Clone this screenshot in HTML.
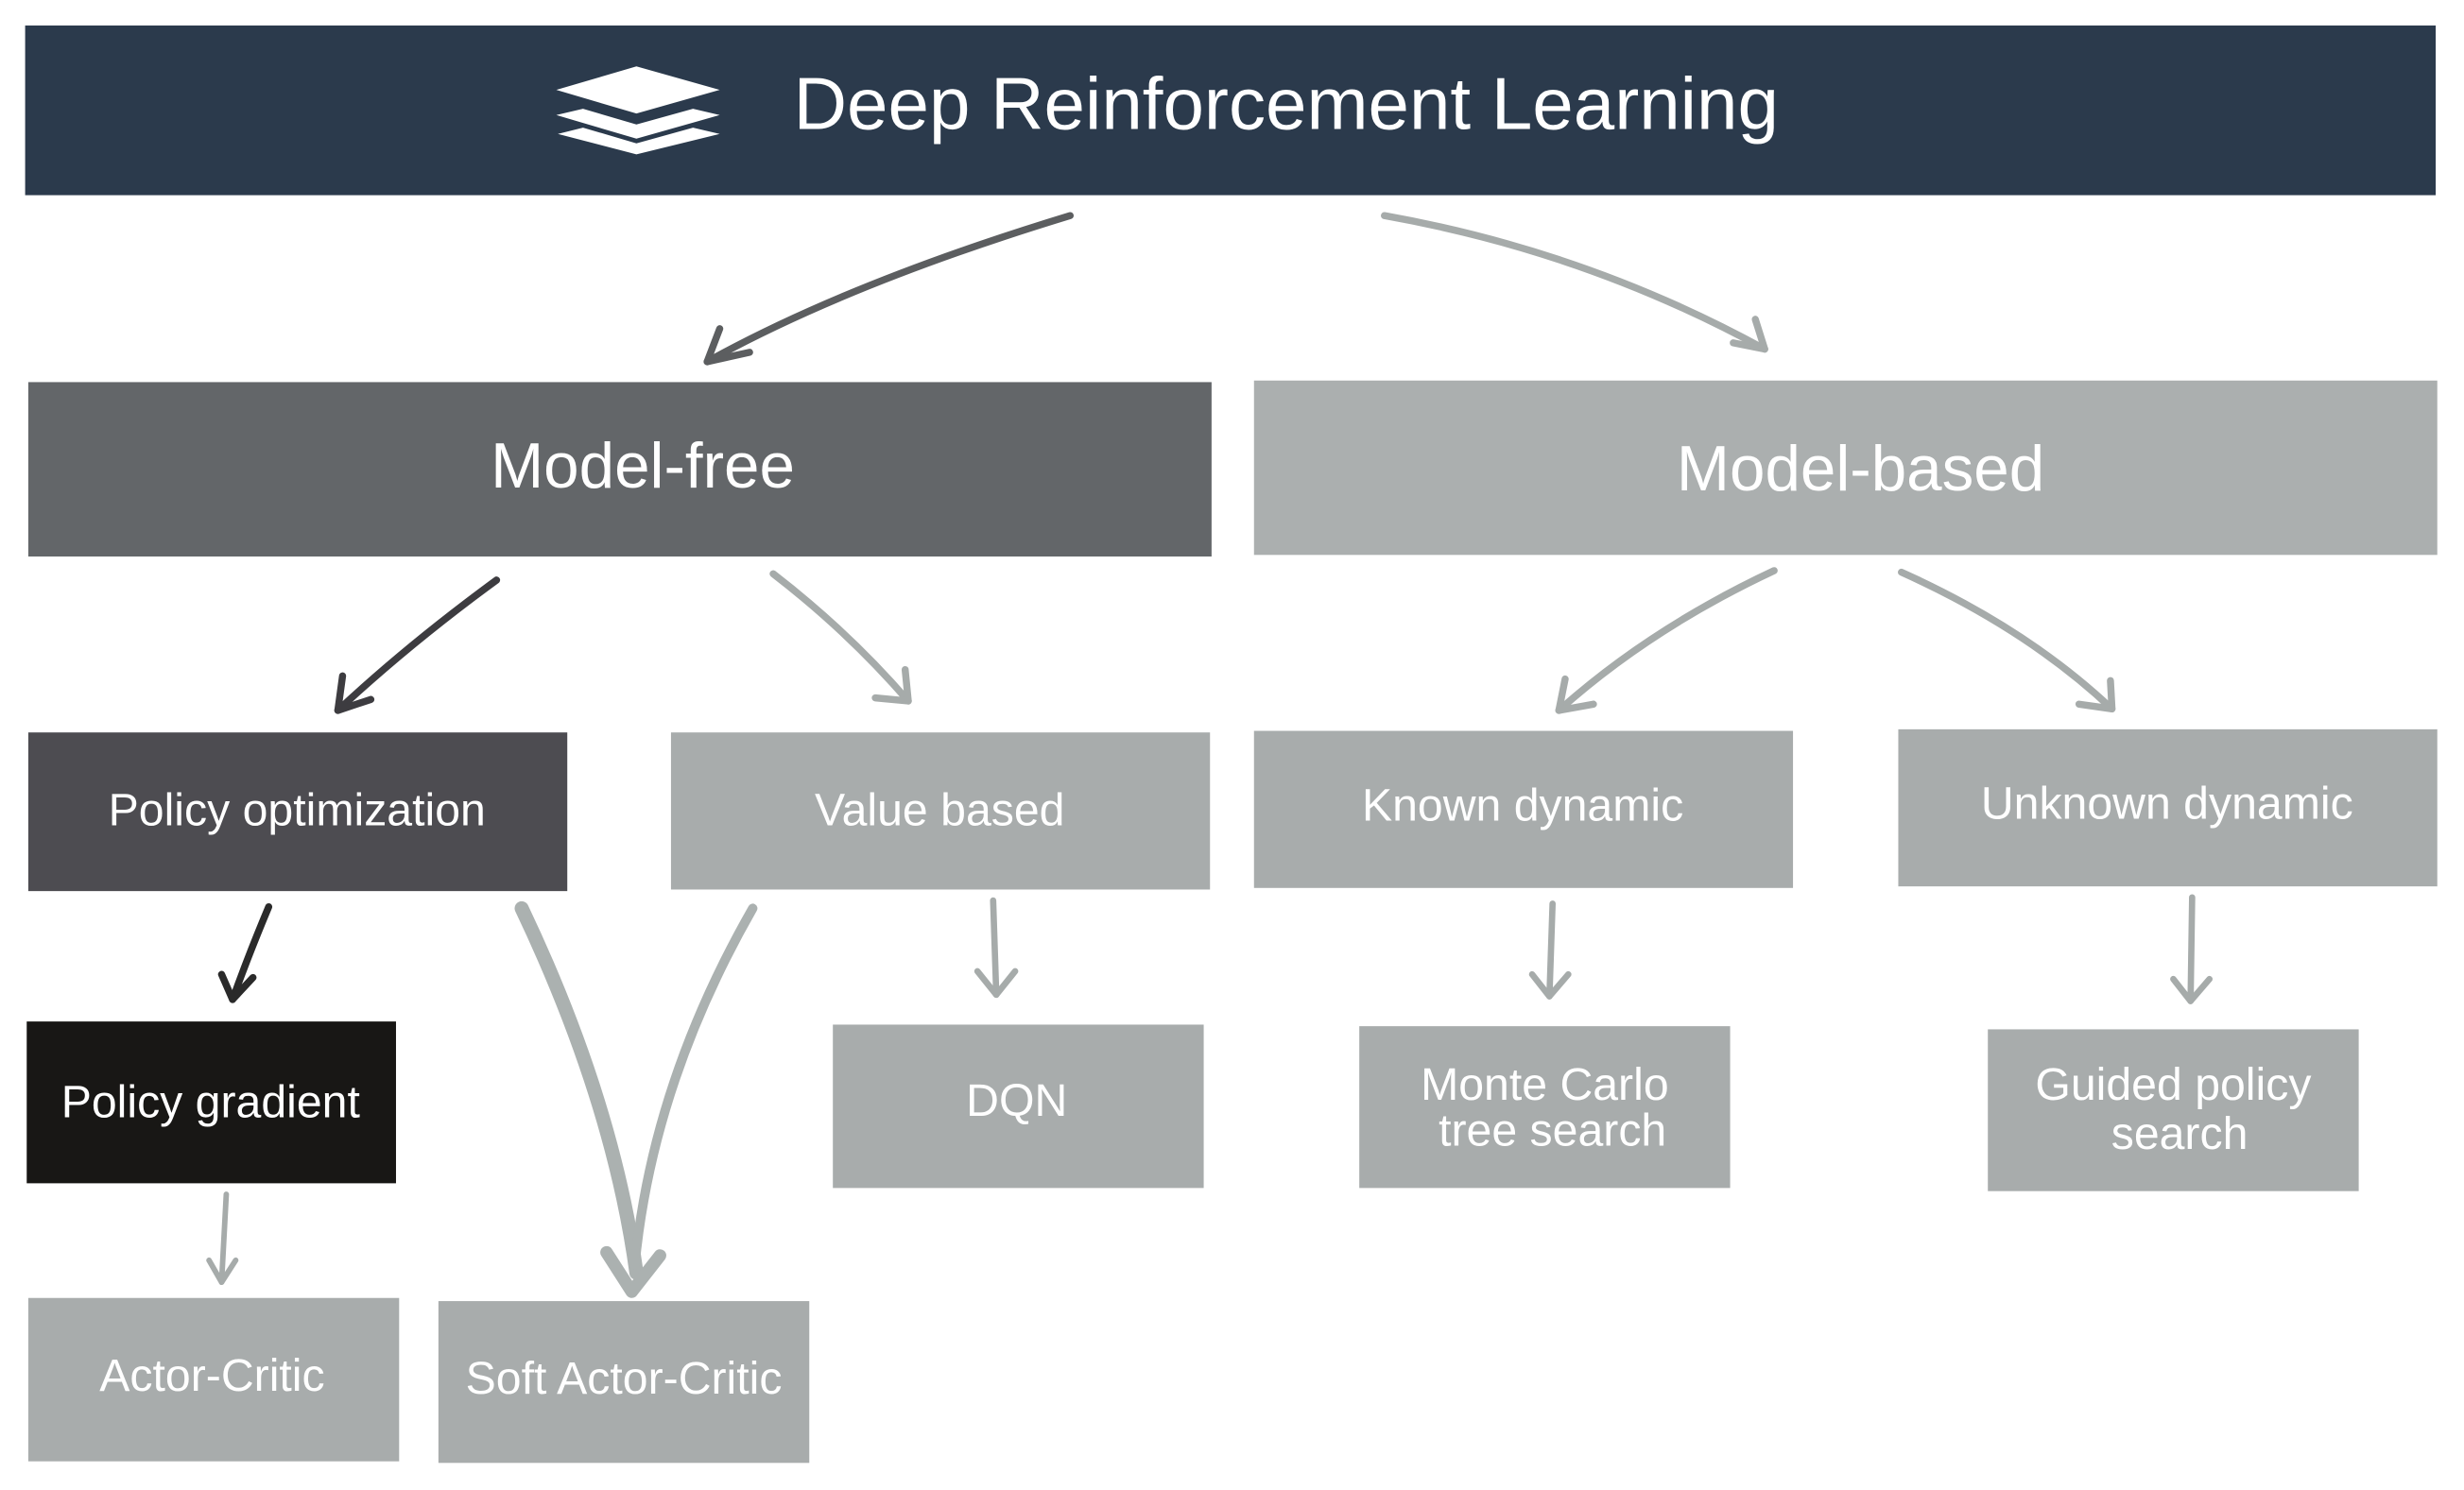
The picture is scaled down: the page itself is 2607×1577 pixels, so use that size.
<!DOCTYPE html>
<html><head><meta charset="utf-8"><style>html,body{margin:0;padding:0;background:#fff}svg{display:block}text{font-family:"Liberation Sans",sans-serif}</style></head>
<body>
<svg width="2607" height="1577" viewBox="0 0 1568 948" xmlns="http://www.w3.org/2000/svg">
<rect width="1568" height="948" fill="#fff"/>
<rect x="16" y="16" width="1534" height="108" fill="#2b3a4c"/>
<g fill="#fff">
<polygon points="354,57 405,42 458,57 405,72"/>
<polygon points="354,73 371,69 405,79 441,69 458,73 405,88"/>
<polygon points="355,85 371,81 405,91 441,81 458,85 405,98"/>
</g>
<text x="505" y="82" font-size="47" fill="#fff">Deep Reinforcement Learning</text>

<rect x="18" y="243" width="753" height="111" fill="#636669"/>
<text x="409" y="310" font-size="40.5" fill="#fff" text-anchor="middle">Model-free</text>
<rect x="798" y="242" width="753" height="111" fill="#abafaf"/>
<text x="1184" y="312" font-size="40.5" fill="#fff" text-anchor="middle">Model-based</text>

<g font-size="29" fill="#fff" text-anchor="middle">
<rect x="18" y="466" width="343" height="101" fill="#4d4c51"/><text x="189" y="525">Policy optimization</text>
<rect x="427" y="466" width="343" height="100" fill="#a8acac"/><text x="598" y="525">Value based</text>
<rect x="798" y="465" width="343" height="100" fill="#a8acac"/><text x="969" y="522">Known dynamic</text>
<rect x="1208" y="464" width="343" height="100" fill="#a8acac"/><text x="1379" y="521">Unknown dynamic</text>
<rect x="17" y="650" width="235" height="103" fill="#181715"/><text x="134" y="711">Policy gradient</text>
<rect x="530" y="652" width="236" height="104" fill="#a8acac"/><text x="647" y="710">DQN</text>
<rect x="865" y="653" width="236" height="103" fill="#a8acac"/><text x="983" y="700">Monte Carlo</text><text x="988" y="729">tree search</text>
<rect x="1265" y="655" width="236" height="103" fill="#a8acac"/><text x="1383" y="700">Guided policy</text><text x="1387" y="731">search</text>
<rect x="18" y="826" width="236" height="104" fill="#a8acac"/><text x="135" y="885">Actor-Critic</text>
<rect x="279" y="828" width="236" height="103" fill="#a8acac"/><text x="397" y="887">Soft Actor-Critic</text>
</g>

<g fill="none" stroke-linecap="round" stroke-linejoin="round">
<g stroke="#5c5e60" stroke-width="4.5"><path d="M681,137 Q540,180 450,230"/><path d="M458,209 L450,230 L477,224"/></g>
<g stroke="#a6abaa" stroke-width="4.5"><path d="M881,137 Q1010,160 1123,222"/><path d="M1103,218 L1123,222 L1117,203"/></g>
<g stroke="#3d3c40" stroke-width="4.5"><path d="M316,369 Q260,410 215,452"/><path d="M218,430 L215,452 L236,445"/></g>
<g stroke="#a6abaa" stroke-width="4.5"><path d="M492,365 Q540,402 578,446"/><path d="M557,444 L578,446 L576,426"/></g>
<g stroke="#a6abaa" stroke-width="4.5"><path d="M1129,363 Q1050,400 992,452"/><path d="M996,432 L992,452 L1014,448"/></g>
<g stroke="#a6abaa" stroke-width="4.5"><path d="M1210,364 Q1290,400 1344,451"/><path d="M1323,448 L1344,451 L1343,433"/></g>
<g stroke="#2a2a2a" stroke-width="4.5"><path d="M171,577 Q158,608 148,636"/><path d="M141,620 L148,636 L161,622"/></g>
<g stroke="#a6abaa" stroke-width="4"><path d="M632,573 L634,633"/><path d="M622,618 L634,633 L646,618"/></g>
<g stroke="#a6abaa" stroke-width="4"><path d="M988,575 L986,634"/><path d="M975,620 L986,634 L998,620"/></g>
<g stroke="#a6abaa" stroke-width="4"><path d="M1395,571 L1394,637"/><path d="M1383,623 L1394,637 L1406,623"/></g>
<g stroke="#a6abaa" stroke-width="3.5"><path d="M144,760 L141,816"/><path d="M133,802 L141,816 L150,802"/></g>
<g stroke="#abb1b0"><path d="M332,578 Q390,700 405,810" stroke-width="9"/><path d="M479,578 Q415,690 404,805" stroke-width="6"/><path d="M386,797 L402,822 L420,799" stroke-width="8"/></g>
</g>
</svg>
</body></html>
